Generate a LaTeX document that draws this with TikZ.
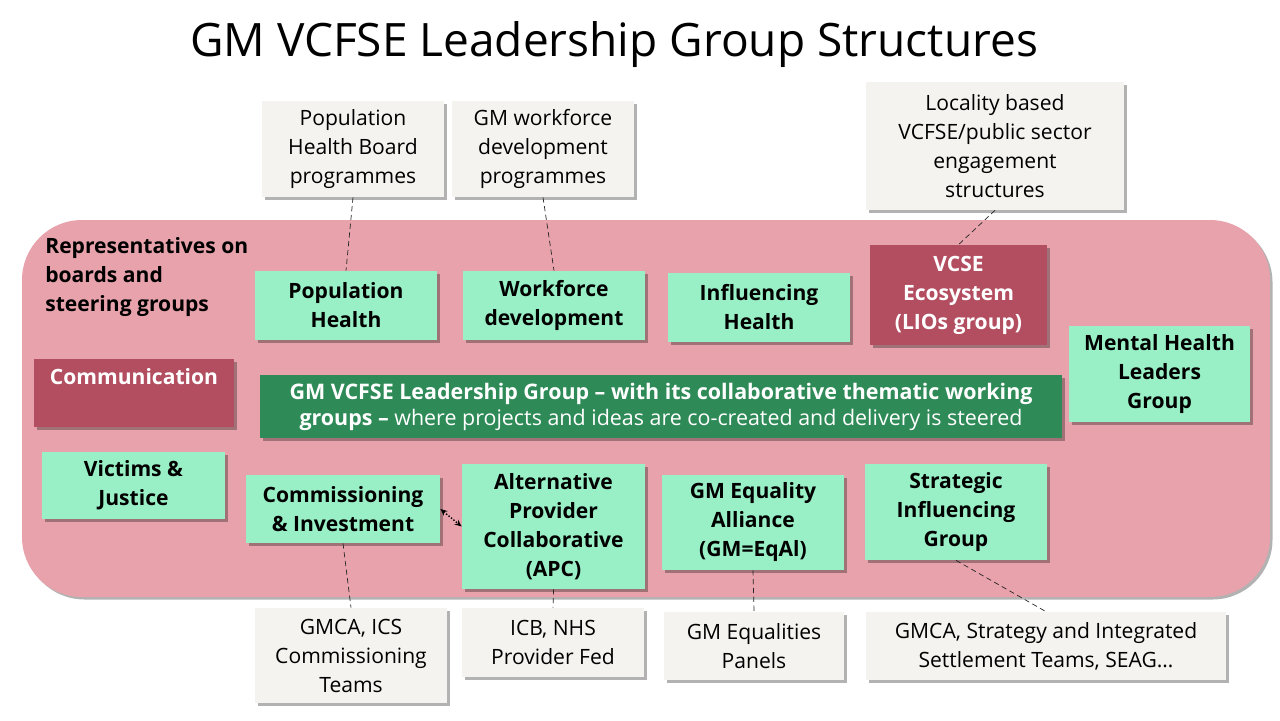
\documentclass[tikz,border=0pt]{standalone}
\usepackage{fontspec}
\setmainfont{Open Sans}
\usetikzlibrary{positioning,shadows,arrows.meta}

\newcommand*{\pxu}{0.02cm}
\definecolor{mint}{HTML}{99F0C6}
\definecolor{rosedark}{HTML}{B34E61}
\definecolor{roselight}{HTML}{E8A2AC}
\definecolor{leadgreen}{HTML}{2E8B57}
\definecolor{paper}{HTML}{F4F3EF}

\begin{document}
\begin{tikzpicture}
[
	x=\pxu, y=-\pxu,
	shade/.style={drop shadow={shadow xshift=2.5*\pxu,shadow yshift=-2.5*\pxu,opacity=0.3,fill=black}},
	boxsize/.style 2 args={minimum width=#1*\pxu,minimum height=#2*\pxu},
	mintbox/.style={fill=mint,shade,align=center,inner sep=0pt,font=\bfseries\fontsize{12}{16.5}\selectfont},
	rosebox/.style={fill=rosedark,shade,align=center,inner sep=0pt,text=white,font=\bfseries\fontsize{12}{16.5}\selectfont},
	greybox/.style={fill=paper,shade,align=center,inner sep=0pt,font=\fontsize{12}{16.5}\selectfont},
	link/.style={densely dashed,thin,black!85}
]

	\useasboundingbox (0,0) rectangle (1280,720);

	% title
	\node[font=\fontsize{26.2}{30}\selectfont] (title) at (614,45) {GM VCFSE Leadership Group Structures};

	% background panel
	\fill[roselight,shade,rounded corners=60*\pxu] (22,220) rectangle (1270,597);
	\node[anchor=north west,align=left,inner sep=0pt,font=\bfseries\fontsize{12}{16.5}\selectfont] (reps) at (45,237)
		{Representatives on\\boards and\\steering groups};

	% upper row
	\node[mintbox,boxsize={182}{69}] (pophealth) at (346,305.5) {Population\\Health};
	\node[mintbox,boxsize={182}{69}] (workforce) at (554,305.5) {Workforce\\development};
	\node[mintbox,boxsize={182}{69}] (influencing) at (759,307.5) {Influencing\\Health};
	\node[rosebox,boxsize={177}{100}] (ecosystem) at (958.5,295) {VCSE\\Ecosystem\\(LIOs group)};
	\node[mintbox,boxsize={181}{96}] (mental) at (1159.5,374) {Mental Health\\Leaders\\Group};

	% middle row
	\node[rosebox,boxsize={200}{68}] (comm) at (134,393) {};
	\node[text=white,inner sep=0pt,font=\bfseries\fontsize{12}{16.5}\selectfont,below=9*\pxu of comm.north] (commtext) {Communication};
	\node[fill=leadgreen,shade,boxsize={802}{63},align=center,inner sep=0pt,text=white,font=\fontsize{12.2}{14.8}\selectfont] (leadgrp) at (661,406.5)
		{\textbf{GM VCFSE Leadership Group -- with its collaborative thematic working}\\
		\textbf{groups --} where projects and ideas are co-created and delivery is steered};

	% lower row
	\node[mintbox,boxsize={183}{67}] (victims) at (133.5,485.5) {Victims \&\\Justice};
	\node[mintbox,boxsize={194}{68}] (commiss) at (343,509) {Commissioning\\\& Investment};
	\node[mintbox,boxsize={183}{125}] (apc) at (553.5,526.5) {Alternative\\Provider\\Collaborative\\(APC)};
	\node[mintbox,boxsize={182}{95}] (equality) at (753,522.5) {GM Equality\\Alliance\\(GM=EqAl)};
	\node[mintbox,boxsize={182}{96}] (strategic) at (956,512) {Strategic\\Influencing\\Group};

	% outside boxes, top
	\node[greybox,boxsize={182}{96}] (pophb) at (353,149) {Population\\Health Board\\programmes};
	\node[greybox,boxsize={182}{96}] (wfdp) at (543,149) {GM workforce\\development\\programmes};
	\node[greybox,boxsize={258}{128}] (locality) at (995,146) {Locality based\\VCFSE/public sector\\engagement\\structures};

	% outside boxes, bottom
	\node[greybox,boxsize={192}{95}] (gmca) at (351,655.5) {GMCA, ICS\\Commissioning\\Teams};
	\node[greybox,boxsize={182}{69}] (icb) at (553,642.5) {ICB, NHS\\Provider Fed};
	\node[greybox,boxsize={180}{68}] (eqpanels) at (754,646) {GM Equalities\\Panels};
	\node[greybox,boxsize={360}{68}] (settlement) at (1046,646) {GMCA, Strategy and Integrated\\Settlement Teams, SEAG\dots};

	% links
	\draw[link] (pophb.south) -- (pophealth.north);
	\draw[link] (wfdp.south) -- (workforce.north);
	\draw[link] (locality.south) -- (ecosystem.north);
	\draw[link] (commiss.south) -- (gmca.north);
	\draw[link] (apc.south) -- (icb.north);
	\draw[link] (equality.south) -- (eqpanels.north);
	\draw[link] (strategic.south) -- (settlement.north);
	\draw[densely dotted,thick,{Stealth[length=7*\pxu,width=6*\pxu]}-{Stealth[length=7*\pxu,width=6*\pxu]}] (commiss.east) -- (apc.west);

\end{tikzpicture}
\end{document}
